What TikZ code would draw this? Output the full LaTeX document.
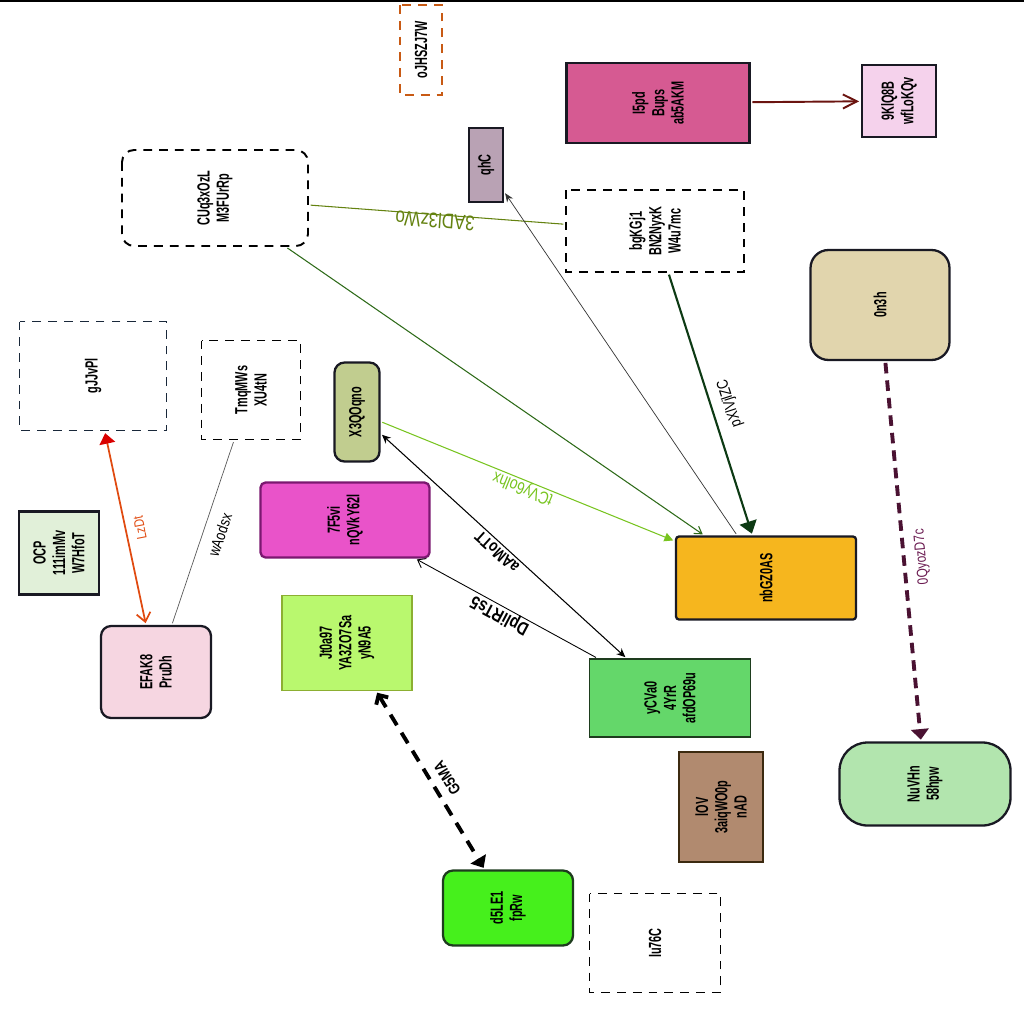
\documentclass[tikz,border=0pt]{standalone}
\usepackage{fontspec}
\usepackage{tikz}
\usetikzlibrary{arrows.meta}
\setmainfont{Liberation Sans}
\newfontfamily\boxfont[FakeStretch=0.62]{Liberation Sans}
\newfontfamily\lblfont[FakeStretch=0.8]{Liberation Sans}
\newcommand\lblsize[1]{\fontsize{#1pt}{#1pt}\selectfont}
\definecolor{mydark}{RGB}{25,25,35}
\definecolor{myorange}{RGB}{200,90,20}
\definecolor{mynavy}{RGB}{25,40,58}
\definecolor{fmauve}{RGB}{185,162,180}
\definecolor{fpink}{RGB}{214,90,146}
\definecolor{flpink}{RGB}{245,210,236}
\definecolor{fsand}{RGB}{225,213,173}
\definecolor{folive}{RGB}{193,205,143}
\definecolor{fmagenta}{RGB}{233,83,201}
\definecolor{dmagenta}{RGB}{123,24,112}
\definecolor{fmint}{RGB}{225,240,217}
\definecolor{fblush}{RGB}{246,214,225}
\definecolor{flime}{RGB}{185,248,110}
\definecolor{dlime}{RGB}{140,175,50}
\definecolor{famber}{RGB}{246,182,30}
\definecolor{fgreen}{RGB}{100,215,106}
\definecolor{dgreen}{RGB}{30,60,30}
\definecolor{fbrown}{RGB}{177,138,111}
\definecolor{dbrown}{RGB}{60,42,16}
\definecolor{fsage}{RGB}{178,229,174}
\definecolor{fneon}{RGB}{70,240,28}
\definecolor{mymaroon}{RGB}{107,20,16}
\definecolor{myolive}{RGB}{100,130,16}
\definecolor{mygrass}{RGB}{45,106,24}
\definecolor{mypine}{RGB}{13,58,20}
\definecolor{mylime}{RGB}{120,196,32}
\definecolor{myvermil}{RGB}{224,74,16}
\definecolor{myplum}{RGB}{74,18,50}
\definecolor{lblplum}{RGB}{106,26,80}
\tikzset{
  box/.style={rectangle, rotate=90, draw=mydark, line width=1.3pt,
    align=center, inner sep=1pt,
    font=\boxfont\bfseries\fontsize{10pt}{11pt}\selectfont},
  dbox/.style={box, draw=black, line width=1.1pt, dash pattern=on 5pt off 4pt},
  dims/.style n args={2}{minimum height=#1, minimum width=#2},
  edge/.style={line width=0.6pt, shorten >=1pt, shorten <=1pt},
  lbl/.style={font=\lblfont, inner sep=0pt},
  blbl/.style={font=\lblfont\bfseries, inner sep=0pt}
}
\begin{document}
\begin{tikzpicture}[x=0.02cm, y=-0.02cm]
  \useasboundingbox (0,0) rectangle (1024,1024);
  % top rule
  \draw[line width=1pt] (0,1) -- (1024,1);

  % Nodes (text turned a quarter)
  \node[dbox, draw=myorange, dims={0.84cm}{1.8cm}] (ojh) at (421,50) {oJHSZJ7W};
  \node[box, fill=fmauve, dims={0.68cm}{1.48cm}] (qhc) at (486,165) {qhC};
  \node[dbox, rounded corners=0.24cm, dims={3.72cm}{1.92cm}] (cuq) at (215,198) {CUq3xOzL\\M3FUrRp};
  \node[box, fill=fpink, dims={3.66cm}{1.6cm}] (ifp) at (658,103) {I5pd\\Bups\\ab5AKM};
  \node[box, fill=flpink, dims={1.48cm}{1.44cm}] (kq) at (899,101) {9KlQ8B\\wfLoKQv};
  \node[dbox, dims={3.56cm}{1.64cm}] (bgk) at (655,231) {bgKGj1\\BN2NyxK\\W4u7mc};
  \node[box, rounded corners=0.36cm, fill=fsand, dims={2.78cm}{2.2cm}] (onh) at (880,305) {0n3h};
  \node[dbox, draw=mynavy, dims={2.94cm}{2.18cm}] (gjj) at (93,376) {gJJvPl};
  \node[dbox, dims={1.98cm}{1.98cm}] (tmq) at (251,390) {TmqMWs\\XU4tN};
  \node[box, rounded corners=0.2cm, fill=folive, dims={0.9cm}{1.98cm}] (x3q) at (357,412) {X3QOqno};
  \node[box, rounded corners=0.1cm, fill=fmagenta, draw=dmagenta, dims={3.38cm}{1.5cm}] (sev) at (345,520) {7F5vi\\nQVkY62l};
  \node[box, fill=fmint, line width=1.6pt, dims={1.6cm}{1.66cm}] (ocp) at (59,553) {OCP\\111imMv\\W7HfoT};
  \node[box, rounded corners=0.2cm, fill=fblush, dims={2.2cm}{1.84cm}] (efa) at (156,672) {EFAK8\\PruDh};
  \node[box, fill=flime, draw=dlime, line width=0.8pt, dims={2.6cm}{1.9cm}] (jt0) at (347,643) {Jt0a97\\YA3ZO7Sa\\yN9A5};
  \node[box, rounded corners=0.06cm, fill=famber, dims={3.6cm}{1.66cm}] (nbg) at (766,578) {nbGZ0AS};
  \node[box, fill=fgreen, draw=dgreen, line width=0.8pt, dims={3.22cm}{1.56cm}] (ycv) at (670,698) {yCVa0\\4YrR\\afdOP69u};
  \node[box, fill=fbrown, draw=dbrown, line width=0.8pt, dims={1.68cm}{2.2cm}] (lov) at (721,807) {lOV\\3aiqWO0p\\nAD};
  \node[box, rounded corners=0.56cm, fill=fsage, dims={3.42cm}{1.66cm}] (nuv) at (925,784) {NuVHn\\58hpw};
  \node[box, rounded corners=0.2cm, fill=fneon, draw=dgreen, dims={2.6cm}{1.5cm}] (d5l) at (508,908) {d5LE1\\fpRw};
  \node[dbox, dims={2.62cm}{1.98cm}] (iu7) at (655,943) {Iu76C};

  % Connectors
  \draw[edge, draw=mymaroon, line width=1.1pt, -{Straight Barb[length=8pt,width=8pt]}] (ifp) -- (kq);
  \draw[edge, draw=myolive] (bgk) -- (cuq);
  \draw[edge, draw=mygrass, -{Straight Barb[length=4pt,width=5pt]}] (cuq) -- (nbg);
  \draw[edge, draw=mypine, line width=1.2pt, -{Triangle[length=7pt,width=10pt]}] (bgk) -- (nbg);
  \draw[edge, draw=black!80, line width=0.4pt, -{Stealth[length=5pt,width=4pt]}] (nbg) -- (qhc);
  \draw[edge, draw=mylime, -{Triangle[length=5pt,width=5pt]}] (x3q) -- (nbg);
  \draw[edge, {Stealth[length=5pt,width=4.5pt]}-{Stealth[length=5pt,width=4.5pt]}] (x3q) -- (ycv);
  \draw[edge, line width=0.5pt, -{Straight Barb[length=4pt,width=6pt]}] (ycv) -- (sev);
  \draw[edge, line width=2.2pt, dash pattern=on 7pt off 5pt,
    {Straight Barb[length=4pt,width=8pt]}-{Triangle[length=6pt,width=10pt]}] (jt0) -- (d5l);
  \draw[edge, draw=myvermil, line width=1pt,
    {Triangle[length=6pt,width=9pt,color=red!85!black]}-{Straight Barb[length=5pt,width=8pt]}] (gjj) -- (efa);
  \draw[edge, draw=black!65, line width=0.4pt] (tmq) -- (efa);
  \draw[edge, draw=myplum, line width=2.2pt, dash pattern=on 6pt off 4pt,
    -{Triangle[length=6pt,width=10pt]}] (onh) -- (nuv);

  % Connector labels
  \node[lbl, text=myolive, rotate=176] (l3ad) at (435,221) {\lblsize{12}3ADl3zWo};
  \node[lbl, rotate=108] (lpxl) at (730,403) {\lblsize{9}pXlVjlZC};
  \node[lbl, text=mylime, rotate=158] (ltcv) at (523,488) {\lblsize{10}tCVy6olhx};
  \node[blbl, rotate=138] (laam) at (497,552) {\lblsize{9.5}aAMoTT};
  \node[blbl, rotate=152] (ldpl) at (500,615) {\lblsize{10.5}DpliRTs5};
  \node[blbl, rotate=122] (lg5m) at (447,778) {\lblsize{9}G5MA};
  \node[lbl, text=myvermil, rotate=101] (llzd) at (140,528) {\lblsize{8}LzDt};
  \node[lbl, rotate=71] (lwao) at (220,535) {\lblsize{9}wAodsx};
  \node[lbl, text=lblplum, rotate=95] (l0qy) at (922,557) {\lblsize{8.5}0QyozD7c};
\end{tikzpicture}
\end{document}
